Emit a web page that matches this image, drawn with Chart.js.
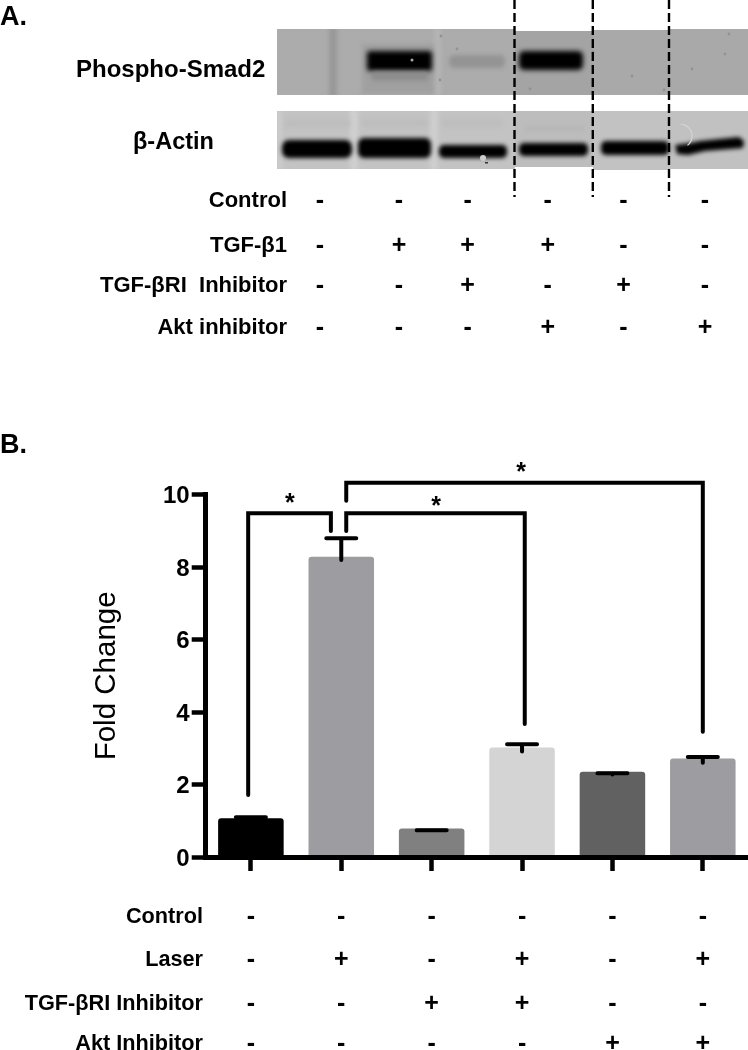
<!DOCTYPE html>
<html>
<head>
<meta charset="utf-8">
<style>html,body{margin:0;padding:0;background:#fff}canvas{display:block}</style>
<script src="https://cdn.jsdelivr.net/npm/chart.js@4"></script>
</head>
<body>
<canvas id="c" width="748" height="1050" style="width:748px;height:1050px"></canvas>
<script>
// ---------- Panel B data ----------
const categories = ['1','2','3','4','5','6'];
const foldChange = [1.07, 8.29, 0.79, 3.02, 2.35, 2.72];
const errorTop   = [1.10, 8.80, 0.74, 3.11, 2.31, 2.76];
const errorLow   = [1.07, 8.20, 0.74, 2.91, 2.28, 2.60];
const barColors  = ['#000000','#9d9ca0','#808080','#d4d4d4','#616161','#9d9ca0'];
const yTicks     = [0,2,4,6,8,10];
const bracket1 = [{x:-0.03,y:1.71},{x:-0.03,y:9.49},{x:0.885,y:9.49},{x:0.885,y:9.0}];
const bracket2 = [{x:1.055,y:9.0},{x:1.055,y:9.49},{x:3.03,y:9.49},{x:3.03,y:3.67}];
const bracket3 = [{x:1.055,y:9.83},{x:1.055,y:10.33},{x:5.0,y:10.33},{x:5.0,y:3.46}];
const stars = [{x:0.43,y:9.74},{x:2.05,y:9.66},{x:2.99,y:10.6}];
const rowLabelsB = ['Control','Laser','TGF-βRI Inhibitor','Akt Inhibitor'];
const rowControlB = ['-','-','-','-','-','-'];
const rowLaserB   = ['-','+','-','+','-','+'];
const rowTgfB     = ['-','-','+','+','-','-'];
const rowAktB     = ['-','-','-','-','+','+'];

// ---------- Panel A data ----------
const rowLabelsA = ['Control','TGF-β1','TGF-βRI  Inhibitor','Akt inhibitor'];
const rowControlA = ['-','-','-','-','-','-'];
const rowTgf1A    = ['-','+','+','+','-','-'];
const rowInhibA   = ['-','-','+','-','+','-'];
const rowAktA     = ['-','-','-','+','-','+'];

const FONT = '"Liberation Sans", Arial, sans-serif';

function drawBlot(ctx){
  const seg=(x,y,w,h,c)=>{ctx.fillStyle=c;ctx.fillRect(x,y,w,h);};
  const blurred=(b,fn)=>{ctx.save();ctx.filter='blur('+b+'px)';fn();ctx.restore();};
  const rr=(x,y,w,h,r,c)=>{ctx.fillStyle=c;ctx.beginPath();ctx.roundRect(x,y,w,h,r);ctx.fill();};
  // top panel
  ctx.save();ctx.beginPath();ctx.rect(277,29,471,66);ctx.clip();
  seg(277,29,238,66,'#acacac');
  seg(515,31,78,64,'#a4a4a4');
  seg(593,30,76,65,'#a9a9a9');
  seg(669,29,79,66,'#a9a9a9');
  blurred(2,()=>{
    seg(329,27,8,70,'#989898');
    seg(434,27,7,70,'#b4b4b4');
    seg(362,44,72,50,'#a0a0a0');
    rr(449,55,56,13,5,'#949494');
  });
  blurred(2.6,()=>{
    rr(367,51,65,20,3,'#000');
    rr(519,51,64,19,5,'#000');
    seg(372,72,56,8,'#8a8a8a');
  });
  ctx.fillStyle='#929292';
  [[441,36],[457,49],[454,60],[530,89],[632,76],[692,69],[664,90],[729,34],[725,54],[593,52],[440,80]].forEach(p=>{
    ctx.beginPath();ctx.arc(p[0],p[1],1.4,0,7);ctx.fill();});
  ctx.fillStyle='#a8a8a8';ctx.beginPath();ctx.arc(412,60,1.5,0,7);ctx.fill();
  ctx.restore();
  // bottom panel
  ctx.save();
  ctx.beginPath();ctx.rect(277,111,238,58);ctx.rect(515,111,78,56);ctx.rect(593,111,76,59);ctx.rect(669,111,79,58);ctx.clip();
  seg(277,111,238,59,'#c3c3c3');
  seg(515,111,78,59,'#bdbdbd');
  seg(593,111,76,59,'#c2c2c2');
  seg(669,111,79,59,'#c1c1c1');
  blurred(2.5,()=>{
    seg(350,109,8,62,'#d0d0d0');
    seg(430,109,8,62,'#cfcfcf');
    seg(277,109,5,62,'#cdcdcd');
    seg(285,120,65,6,'#bcbcbc');
    seg(362,120,66,6,'#bcbcbc');
    seg(442,120,60,6,'#bcbcbc');
    seg(525,126,60,5,'#b5b5b5');
  });
  blurred(2,()=>{
    ctx.fillStyle='#000';
    rr(282,140,70,18,7,'#000');
    rr(358,138,73,20,6,'#000');
    rr(439,145,68,13,5,'#000');
    rr(519,143,69,13,5,'#000');
    rr(601,141,68,14,5,'#000');
    ctx.beginPath();ctx.moveTo(675,145);ctx.lineTo(690,143);ctx.lineTo(700,141);ctx.lineTo(739,137);
    ctx.lineTo(744,141);ctx.lineTo(743,148);ctx.lineTo(705,151);ctx.lineTo(688,155);ctx.lineTo(677,154);ctx.closePath();ctx.fill();
  });
  ctx.strokeStyle='#d4d4d4';ctx.lineWidth=1.2;ctx.beginPath();ctx.arc(680,136,12,-1.5,0.9);ctx.stroke();
  ctx.fillStyle='#cccccc';ctx.beginPath();ctx.arc(483,158,3,0,7);ctx.fill();
  ctx.fillStyle='#333';ctx.fillRect(485,162,3,1.5);
  ctx.restore();
  // dashed separators
  ctx.save();ctx.strokeStyle='#000';ctx.lineWidth=2.4;ctx.setLineDash([9,4]);
  [514.5,592.8,669].forEach(x=>{ctx.beginPath();ctx.moveTo(x,0);ctx.lineTo(x,197);ctx.stroke();});
  ctx.restore();
}

function text(ctx,s,x,y,font,align,baseline){
  ctx.font=font;ctx.textAlign=align||'left';ctx.textBaseline=baseline||'middle';ctx.fillStyle='#000';ctx.fillText(s,x,y);
}

const decorations = {
  id:'decorations',
  beforeDraw(chart){
    const ctx=chart.ctx;
    ctx.save();
    drawBlot(ctx);
    text(ctx,'A.',0,18,'bold 27px '+FONT);
    text(ctx,'B.',0,446,'bold 27px '+FONT);
    text(ctx,'Phospho-Smad2',76,70,'bold 24px '+FONT);
    text(ctx,'β-Actin',133,143,'bold 23.5px '+FONT);
    const colsA=[320,399,467.6,547.7,623.5,705];
    const ysA=[201,246,286,328];
    [rowControlA,rowTgf1A,rowInhibA,rowAktA].forEach((r,i)=>{
      text(ctx,rowLabelsA[i],287,ysA[i],'bold 22px '+FONT,'right');
      r.forEach((s,j)=>text(ctx,s,colsA[j],ysA[i],'bold 25px '+FONT,'center'));
    });
    ctx.restore();
  },
  afterDatasetsDraw(chart){
    const ctx=chart.ctx,xs=chart.scales.x,ys=chart.scales.y,x2=chart.scales.x2;
    ctx.save();
    ctx.strokeStyle='#000';ctx.lineWidth=4;ctx.lineCap='round';
    foldChange.forEach((v,i)=>{
      const x=xs.getPixelForValue(i),t=ys.getPixelForValue(errorTop[i]),l=ys.getPixelForValue(errorLow[i]);
      ctx.beginPath();ctx.moveTo(x-15,t);ctx.lineTo(x+15,t);ctx.moveTo(x,t);ctx.lineTo(x,l);ctx.stroke();
    });
    stars.forEach(p=>text(ctx,'*',x2.getPixelForValue(p.x),ys.getPixelForValue(p.y),'bold 25px '+FONT,'center','middle'));
    const ysB=[917,960,1004,1044];
    [rowControlB,rowLaserB,rowTgfB,rowAktB].forEach((r,i)=>{
      text(ctx,rowLabelsB[i],203,ysB[i],'bold 21.7px '+FONT,'right');
      r.forEach((s,j)=>text(ctx,s,xs.getPixelForValue(j),ysB[i],'bold 25px '+FONT,'center'));
    });
    ctx.restore();
  }
};

const bracketStyle = {type:'line',xAxisID:'x2',yAxisID:'y',borderColor:'#000',borderWidth:4,pointRadius:0,
  tension:0,fill:false,clip:false,borderCapStyle:'round',borderJoinStyle:'miter',order:-1};

new Chart(document.getElementById('c'),{
  type:'bar',
  data:{labels:categories,datasets:[
    {label:'Fold Change',data:foldChange,backgroundColor:barColors,grouped:false,barPercentage:0.725,categoryPercentage:1,
      borderRadius:3,xAxisID:'x',yAxisID:'y'},
    Object.assign({label:'b1',data:bracket1},bracketStyle),
    Object.assign({label:'b2',data:bracket2},bracketStyle),
    Object.assign({label:'b3',data:bracket3},bracketStyle)
  ]},
  options:{
    responsive:false,animation:false,devicePixelRatio:1,
    layout:{padding:{top:494.7,left:0,right:0,bottom:0}},
    plugins:{legend:{display:false},tooltip:{enabled:false},title:{display:false}},
    scales:{
      x:{type:'category',offset:true,
        grid:{offset:false,drawOnChartArea:false,tickLength:14,tickWidth:4.5,tickColor:'#000'},
        border:{display:true,color:'#000',width:5,z:1},
        ticks:{callback:()=>'',maxRotation:0,autoSkip:false},
        afterFit(s){s.height=193;}},
      x2:{type:'linear',display:false,offset:false,min:-0.5,max:5.5,grid:{offset:false}},
      y:{type:'linear',min:0,max:10,
        afterBuildTicks(s){s.ticks=yTicks.map(v=>({value:v}));},
        grid:{drawOnChartArea:false,tickLength:14,tickWidth:4.5,tickColor:'#000'},
        border:{display:true,color:'#000',width:5,z:1},
        ticks:{color:'#000',padding:2,labelOffset:2,font:{family:FONT,size:24,weight:'bold'}},
        title:{display:true,text:'Fold Change',color:'#000',font:{family:FONT,size:29.5,weight:'normal'},padding:{top:89,bottom:0}},
        afterFit(s){s.width=205.7;}}
    }
  },
  plugins:[decorations]
});
</script>
</body>
</html>
